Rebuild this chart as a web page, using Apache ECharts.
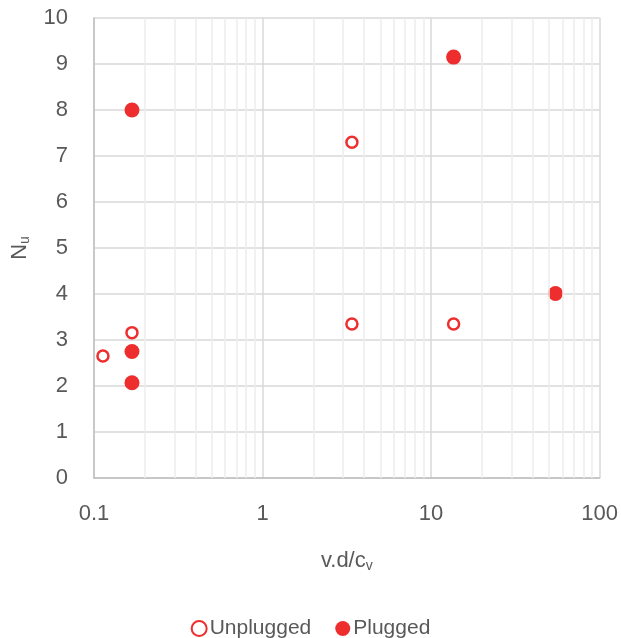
<!DOCTYPE html>
<html>
<head>
<meta charset="utf-8">
<script src="https://cdn.jsdelivr.net/npm/echarts@6/dist/echarts.min.js"></script>
<style>html,body{margin:0;padding:0;background:#fff}#c{width:621px;height:638px}</style>
</head>
<body>
<div id="c"></div>
<script>
const unpluggedX = [0.113, 0.168, 3.39, 3.39, 13.6];
const unpluggedY = [2.65, 3.16, 7.30, 3.35, 3.35];
const pluggedX = [0.168, 0.168, 0.168, 13.6, 54.7];
const pluggedY = [8.0, 2.75, 2.07, 9.15, 4.01];
const minorGridX = [0.2,0.3,0.4,0.5,0.6,0.7,0.8,0.9,2,3,4,5,6,7,8,9,20,30,40,50,60,70,80,90];
const RED = '#EE2E2E';
const GREY = '#595959';
const FONT = 'Liberation Sans';

const chart = echarts.init(document.getElementById('c'));
chart.setOption({
  animation: false,
  textStyle: { fontFamily: FONT },
  grid: { left: 94, right: 21, top: 18, bottom: 160 },
  legend: {
    top: 613, left: 'center', itemWidth: 15, itemHeight: 15, itemGap: 24,
    textStyle: { color: GREY, fontSize: 21, fontFamily: FONT, padding: [0, 0, 0, -2] },
    data: [{ name: 'Unplugged', icon: 'circle' }, { name: 'Plugged', icon: 'circle' }]
  },
  xAxis: {
    type: 'log', logBase: 10, min: 0.1, max: 100,
    axisLine: { show: true, onZero: false, lineStyle: { color: '#bfbfbf', width: 1.5 } },
    axisTick: { show: false },
    axisLabel: { color: GREY, fontSize: 22, margin: 25, formatter: v => String(v) },
    splitLine: { show: true, lineStyle: { color: '#d9d9d9', width: 1.5 } },
    name: '{a|v.d/c}{s|v}', nameLocation: 'middle', nameGap: 70,
    nameTextStyle: {
      color: GREY,
      rich: { a: { fontSize: 22, color: GREY, fontFamily: FONT }, s: { fontSize: 14, color: GREY, fontFamily: FONT, padding: [11, 0, 0, 0] } }
    }
  },
  yAxis: {
    type: 'value', min: 0, max: 10, interval: 1,
    axisLine: { show: true, lineStyle: { color: '#bfbfbf', width: 1.5 } },
    axisTick: { show: false },
    axisLabel: { color: GREY, fontSize: 22, margin: 26 },
    splitLine: { show: true, lineStyle: { color: '#d9d9d9', width: 1.5 } },
    name: '{a|N}{s|u}', nameLocation: 'middle', nameGap: 62, nameRotate: 90,
    nameTextStyle: {
      color: GREY,
      rich: { a: { fontSize: 22, color: GREY, fontFamily: FONT }, s: { fontSize: 14, color: GREY, fontFamily: FONT, padding: [11, 0, 0, 0] } }
    }
  },
  series: [
    {
      name: 'minor', type: 'scatter', data: [], z: 1, silent: true,
      markLine: {
        silent: true, symbol: 'none', animation: false,
        label: { show: false },
        lineStyle: { color: '#ececec', width: 1.5, type: 'solid' },
        data: minorGridX.map(v => ({ xAxis: v }))
      }
    },
    {
      name: 'Unplugged', type: 'scatter', symbol: 'circle', symbolSize: 11, z: 3,
      itemStyle: { color: '#ffffff', borderColor: RED, borderWidth: 2.5, opacity: 1 },
      data: unpluggedX.map((x, i) => [x, unpluggedY[i]])
    },
    {
      name: 'Plugged', type: 'scatter', symbol: 'circle', symbolSize: 15, z: 3,
      itemStyle: { color: RED, opacity: 1 },
      data: pluggedX.map((x, i) => [x, pluggedY[i]])
    }
  ]
});
</script>
</body>
</html>
